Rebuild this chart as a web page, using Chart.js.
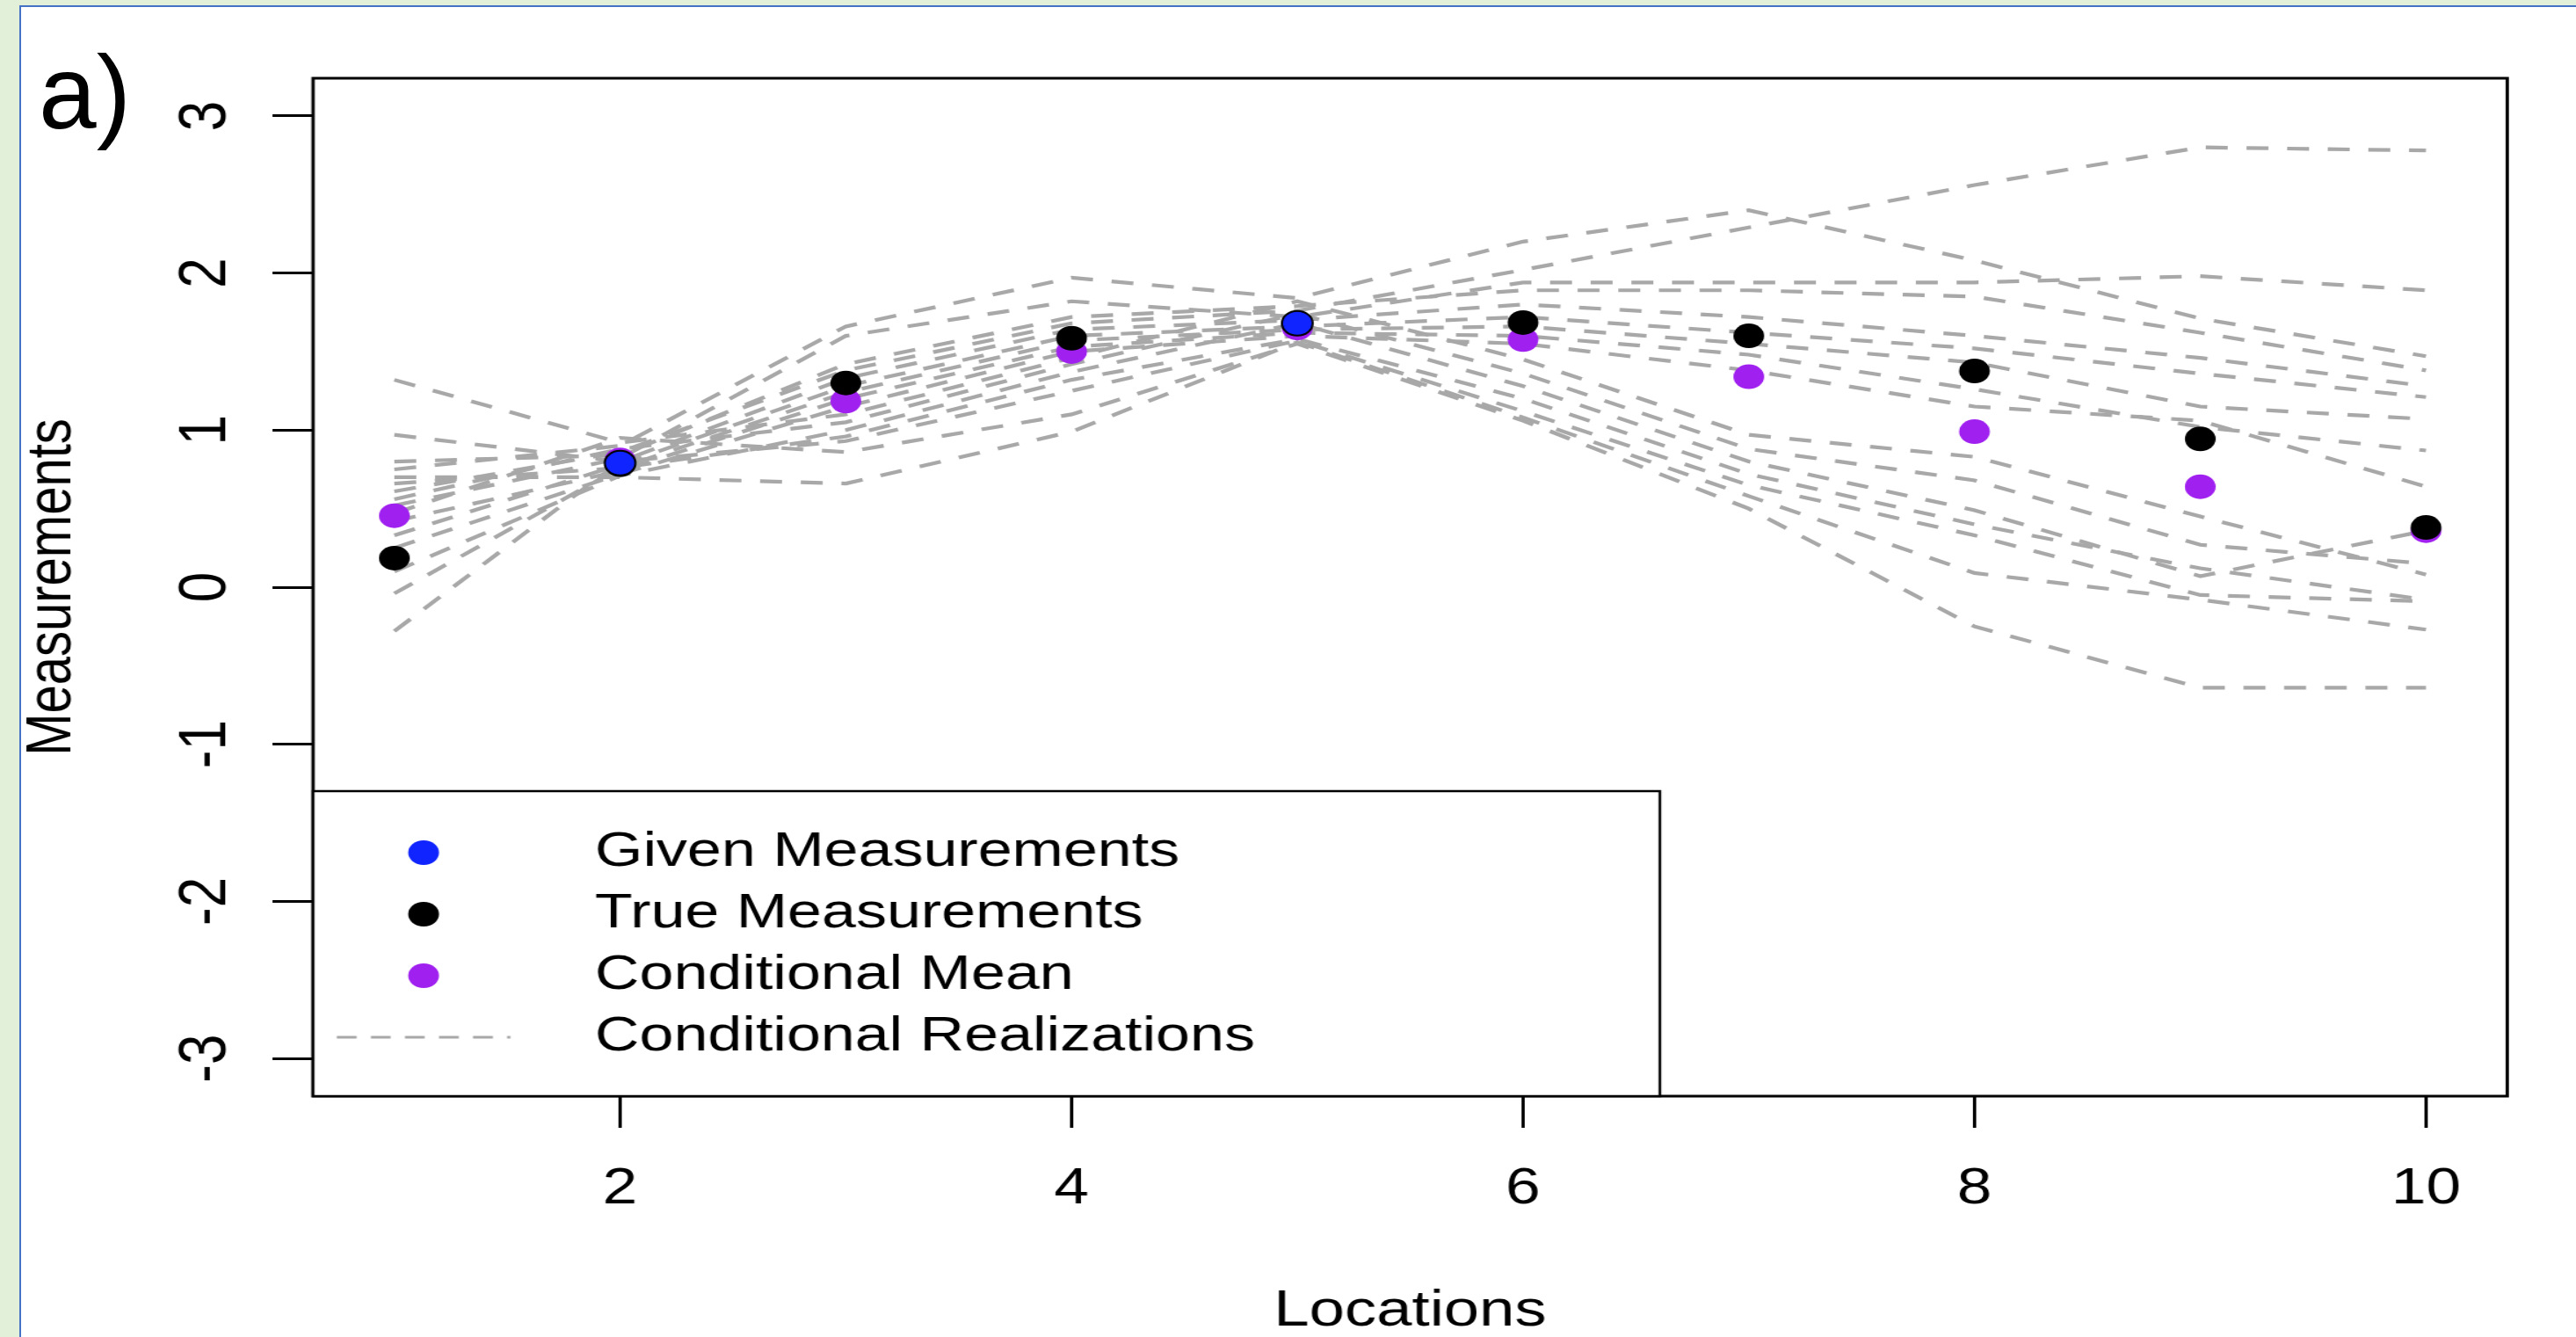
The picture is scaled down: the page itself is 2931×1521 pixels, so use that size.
<!DOCTYPE html>
<html>
<head>
<meta charset="utf-8">
<script src="https://cdn.jsdelivr.net/npm/chart.js@4.4.0/dist/chart.umd.min.js"></script>
<style>
  html, body { margin: 0; padding: 0; width: 2931px; height: 1521px; overflow: hidden; background: #e2efd9; }
  #panel { position: absolute; left: 22px; top: 6px; width: 2960px; height: 1560px; background: #ffffff;
           border-left: 2px solid #4472c4; border-top: 2px solid #4472c4; }
  #tag { position: absolute; left: 44px; top: 46px; font-family: "Liberation Sans", Arial, sans-serif;
         font-size: 118px; line-height: 1; color: #000; }
  #wrap { position: absolute; left: 0; top: 0; width: 2345px; height: 1521px;
          transform: scaleX(1.2499); transform-origin: 0 0; }
</style>
</head>
<body>
<div id="panel"></div>
<div id="tag">a)</div>
<div id="wrap"><canvas id="c" width="2345" height="1521"></canvas></div>
<script>
// ---------------- data ----------------
const locations = [1, 2, 3, 4, 5, 6, 7, 8, 9, 10];
const givenLocations = [2, 5];
const givenValues = [0.79, 1.68];
const trueValues = [0.185, 0.78, 1.30, 1.585, 1.68, 1.685, 1.60, 1.376, 0.944, 0.38];
const meanValues = [0.455, 0.81, 1.185, 1.50, 1.65, 1.576, 1.34, 0.99, 0.64, 0.36];

const real01 = [0.61, 0.86, 1.38, 1.68, 1.76, 2.02, 2.29, 2.56, 2.80, 2.78];
const real02 = [0.75, 0.90, 1.66, 1.97, 1.84, 2.20, 2.40, 2.08, 1.71, 1.47];
const real03 = [0.52, 0.82, 1.60, 1.82, 1.72, 1.94, 1.94, 1.94, 1.98, 1.89];
const real04 = [0.80, 0.84, 1.42, 1.72, 1.79, 1.89, 1.89, 1.85, 1.62, 1.38];
const real05 = [0.97, 0.80, 1.33, 1.64, 1.70, 1.80, 1.72, 1.60, 1.46, 1.28];
const real06 = [0.33, 0.78, 1.28, 1.60, 1.66, 1.72, 1.62, 1.52, 1.36, 1.21];
const real07 = [0.66, 0.76, 1.24, 1.57, 1.64, 1.66, 1.55, 1.43, 1.15, 1.07];
const real08 = [0.42, 0.74, 1.20, 1.53, 1.62, 1.60, 1.48, 1.26, 1.02, 0.87];
const real09 = [0.25, 0.72, 1.15, 1.50, 1.60, 1.55, 1.38, 1.15, 1.06, 0.64];
const real10 = [1.32, 0.92, 1.10, 1.46, 1.82, 1.45, 0.97, 0.83, 0.45, 0.08];
const real11 = [0.56, 0.88, 1.05, 1.42, 1.74, 1.36, 0.88, 0.68, 0.27, 0.15];
const real12 = [0.10, 0.71, 1.00, 1.37, 1.68, 1.28, 0.80, 0.49, 0.07, 0.36];
const real13 = [-0.04, 0.76, 0.96, 1.32, 1.58, 1.20, 0.72, 0.40, 0.12, -0.08];
const real14 = [-0.28, 0.80, 0.93, 1.25, 1.57, 1.12, 0.65, 0.33, -0.05, -0.09];
const real15 = [0.70, 0.70, 0.66, 0.99, 1.56, 1.08, 0.58, 0.09, -0.08, -0.27];
const real16 = [0.47, 0.95, 0.86, 1.10, 1.55, 1.06, 0.50, -0.25, -0.64, -0.64];
const realizations = [real01, real02, real03, real04, real05, real06, real07, real08,
                      real09, real10, real11, real12, real13, real14, real15, real16];

const seriesNames = ["Given Measurements", "True Measurements", "Conditional Mean", "Conditional Realizations"];
const xTickValues = [2, 4, 6, 8, 10];
const yTickValues = [-3, -2, -1, 0, 1, 2, 3];
const xTitle = "Locations";
const yTitle = "Measurements";

// ---------------- styles ----------------
const FONT = '"Liberation Sans", Arial, Helvetica, sans-serif';
const COL_GIVEN = '#1024ff';
const COL_TRUE = '#000000';
const COL_MEAN = '#a020f0';
const COL_REAL = '#a8a8a8';
const PT_R = 14;
const REAL_DASH = [20, 17];

const toXY = (xs, ys) => xs.map((x, i) => ({ x: x, y: ys[i] }));

const datasets = [
  { label: seriesNames[0], data: toXY(givenLocations, givenValues), backgroundColor: COL_GIVEN,
    borderColor: '#000', borderWidth: 2, pointRadius: PT_R, showLine: false },
  { label: seriesNames[1], data: toXY(locations, trueValues), backgroundColor: COL_TRUE,
    borderWidth: 0, pointRadius: PT_R, showLine: false },
  { label: seriesNames[2], data: toXY(locations, meanValues), backgroundColor: COL_MEAN,
    borderWidth: 0, pointRadius: PT_R, showLine: false }
];
realizations.forEach((r, i) => {
  datasets.push({ label: seriesNames[3] + ' ' + (i + 1), data: toXY(locations, r), showLine: true,
    pointRadius: 0, borderColor: COL_REAL, borderWidth: 4.2, borderDash: REAL_DASH, tension: 0, fill: false });
});

const legendItems = [
  { text: seriesNames[0], kind: 'dot', color: COL_GIVEN },
  { text: seriesNames[1], kind: 'dot', color: COL_TRUE },
  { text: seriesNames[2], kind: 'dot', color: COL_MEAN },
  { text: seriesNames[3], kind: 'dash', color: COL_REAL }
];

const framePlugin = {
  id: 'frameAndLegend',
  afterDatasetsDraw(chart) {
    const { ctx, chartArea: a } = chart;
    ctx.save();
    ctx.setLineDash([]);
    ctx.strokeStyle = '#000';
    ctx.lineWidth = 3;
    ctx.strokeRect(a.left, a.top, a.right - a.left, a.bottom - a.top);

    // legend box (bottom-left inside the plot)
    const lx0 = a.left, lx1 = 1511, ly0 = 900, ly1 = a.bottom;
    ctx.fillStyle = '#fff';
    ctx.fillRect(lx0, ly0, lx1 - lx0, ly1 - ly0);
    ctx.lineWidth = 2.5;
    ctx.strokeRect(lx0, ly0, lx1 - lx0, ly1 - ly0);

    const symX = 385.6, textX = 541.6, row0 = 970, rowGap = 70;
    ctx.font = '56px ' + FONT;
    ctx.textBaseline = 'middle';
    ctx.textAlign = 'left';
    legendItems.forEach((it, i) => {
      const y = row0 + i * rowGap;
      if (it.kind === 'dot') {
        ctx.beginPath();
        ctx.arc(symX, y, PT_R, 0, Math.PI * 2);
        ctx.fillStyle = it.color;
        ctx.fill();
      } else {
        ctx.beginPath();
        ctx.setLineDash([18, 13]);
        ctx.strokeStyle = it.color;
        ctx.lineWidth = 3;
        ctx.moveTo(symX - 79, y);
        ctx.lineTo(symX + 79, y);
        ctx.stroke();
        ctx.setLineDash([]);
      }
      ctx.fillStyle = '#000';
      ctx.fillText(it.text, textX, y);
    });
    ctx.restore();
  }
};

new Chart(document.getElementById('c'), {
  type: 'scatter',
  data: { datasets: datasets },
  plugins: [framePlugin],
  options: {
    responsive: false,
    animation: false,
    events: [],
    devicePixelRatio: 1,
    layout: { autoPadding: false, padding: { top: 89, right: 62.6, left: 0, bottom: 0 } },
    plugins: { legend: { display: false }, tooltip: { enabled: false }, title: { display: false } },
    scales: {
      x: {
        type: 'linear', min: 0.64, max: 10.36,
        afterBuildTicks: s => { s.ticks = xTickValues.map(v => ({ value: v })); },
        afterFit: s => { s.height = 274; },
        grid: { display: true, drawOnChartArea: false, drawTicks: true, tickLength: 36, tickWidth: 3, tickColor: '#000' },
        border: { display: false },
        ticks: { autoSkip: false, maxRotation: 0, minRotation: 0, padding: 36, color: '#000',
                 font: { family: FONT, size: 57 } },
        title: { display: true, text: xTitle, color: '#000', font: { family: FONT, size: 58, lineHeight: 1 },
                 padding: { top: 0, bottom: 0 } }
      },
      y: {
        type: 'linear', min: -3.24, max: 3.24,
        afterBuildTicks: s => { s.ticks = yTickValues.map(v => ({ value: v })); },
        afterFit: s => { s.width = 285; },
        grid: { display: true, drawOnChartArea: false, drawTicks: true, tickLength: 37, tickWidth: 3, tickColor: '#000' },
        border: { display: false },
        ticks: { autoSkip: false, minRotation: 90, maxRotation: 90, crossAlign: 'center', padding: 33,
                 color: '#000', font: { family: FONT, size: 62 } },
        title: { display: true, text: yTitle, color: '#000', font: { family: FONT, size: 58, lineHeight: 1 },
                 padding: { top: 19, bottom: 0 } }
      }
    }
  }
});
</script>
</body>
</html>
